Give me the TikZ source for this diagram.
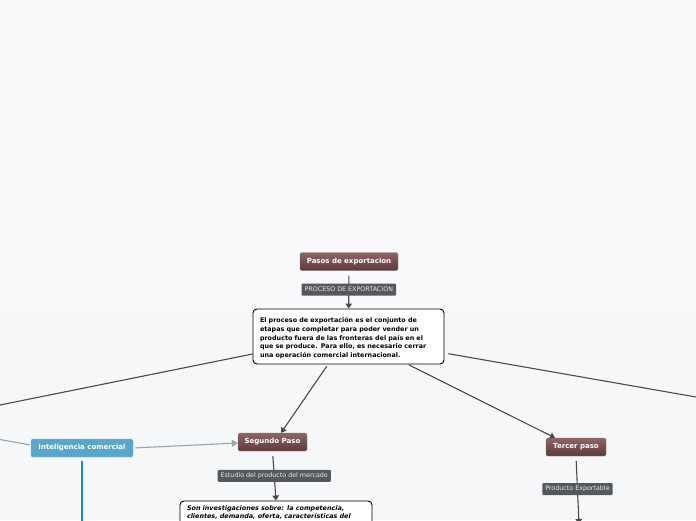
\documentclass[tikz,border=0pt]{standalone}
\usepackage{fontspec}
\setmainfont{DejaVu Sans}
\usetikzlibrary{arrows.meta,calc}
\definecolor{bgtop}{HTML}{FAF9FB}
\definecolor{bgbot}{HTML}{F5F7F9}
\definecolor{brtop}{HTML}{8E6464}
\definecolor{brbot}{HTML}{5E3B3B}
\definecolor{lblfill}{HTML}{55585D}
\definecolor{lbltext}{HTML}{E8E8E8}
\definecolor{conn}{HTML}{4A4A4A}
\definecolor{connlight}{HTML}{9AA4AD}
\definecolor{icblue}{HTML}{5AA6C8}
\definecolor{icline}{HTML}{1E8CD2}
\tikzset{
  stepbox/.style={rectangle, rounded corners=1.5pt, top color=brtop, bottom color=brbot,
    draw=brbot!70!white, line width=0.3pt, text=white, font=\fontsize{7}{8}\selectfont\bfseries,
    inner xsep=4pt, minimum height=18pt},
  bluebox/.style={rectangle, rounded corners=1.5pt, fill=icblue, draw=icblue!80!white,
    text=white, font=\fontsize{7}{8}\selectfont\bfseries, inner xsep=4pt, minimum height=18pt},
  lbl/.style={rectangle, rounded corners=1pt, fill=lblfill, text=lbltext,
    font=\fontsize{6.35}{7}\selectfont, inner xsep=3pt, minimum height=12pt, inner ysep=1pt},
  textbox/.style={rectangle, rounded corners=4pt, fill=white, draw=black, line width=0.9pt,
    align=left, inner xsep=7pt},
  conline/.style={draw=conn, line width=1.1pt},
  arr/.style={conline, -{Triangle[length=5pt,width=6.5pt]}},
  lightline/.style={draw=connlight, line width=1.1pt},
}
\begin{document}
\begin{tikzpicture}[x=1pt,y=-1pt]
\useasboundingbox (0,0) rectangle (696,520);
\clip (0,0) rectangle (696,520);
\fill[bgtop] (0,0) rectangle (696,312);
\fill[bgbot] (0,312) rectangle (696,520);

% nodes
\node[stepbox, minimum width=98pt] (pasos) at (349,261.5) {Pasos de exportacion};
\node[textbox, text width=177pt, minimum height=55pt,
  font=\fontsize{6.4}{8.7}\selectfont\bfseries] (main) at (348.5,336.5)
  {\rule{0pt}{8.8pt}El proceso de exportación es el conjunto de\\
   etapas que completar para poder vender un\\
   producto fuera de las fronteras del país en el\\
   que se produce. Para ello, es necesario cerrar\\
   una operación comercial internacional.};
\node[stepbox, minimum width=69pt] (s2) at (272.5,442) {Segundo Paso};
\node[stepbox, minimum width=60pt] (t3) at (576,447) {Tercer paso};
\node[bluebox, minimum width=102pt] (ic) at (82,448) {Inteligencia comercial};
\node[textbox, anchor=north, text width=178pt, inner ysep=5pt,
  font=\fontsize{6.4}{7.4}\selectfont\bfseries\itshape] (d2) at (276,500.5)
  {Son investigaciones sobre: la competencia,\\
   clientes, demanda, oferta, características del\\
   ~\\ ~\\ ~};

\coordinate (lft1) at (0,405);
\coordinate (lft2) at (0,439.5);
\coordinate (rt1) at (696,397);
\coordinate (icend) at (82,521);
\coordinate (t3end) at (579,524);

% connectors
\draw[arr, shorten <=5pt] (pasos) -- node[lbl]{PROCESO DE EXPORTACION} (main);
\draw[conline] ([yshift=-17.5pt]main.west) -- (lft1);
\draw[conline, shorten <=4pt] ([yshift=-16.5pt]main.east) -- (rt1);
\draw[arr, shorten <=2pt] ([xshift=-20.5pt]main.south) -- ([xshift=8.5pt]s2.north);
\draw[arr, shorten <=1pt] ([xshift=59.5pt]main.south) -- ([xshift=-21pt]t3.north);
\draw[lightline, shorten >=1pt] (lft2) -- ([yshift=3pt]ic.west);
\draw[lightline, -{Triangle[length=6pt,width=7pt]}, shorten <=2pt] (ic.east) -- ([yshift=-1pt]s2.west);
\draw[draw=icline, line width=1.1pt, shorten <=4pt] (ic.south) -- (icend);
\draw[arr, shorten <=5pt] (s2.south) -- node[lbl]{Estudio del producto del mercado} (d2.north);
\draw[arr, shorten <=5pt] (t3.south) -- node[lbl, pos=0.485]{Producto Exportable} (t3end);
\end{tikzpicture}
\end{document}
